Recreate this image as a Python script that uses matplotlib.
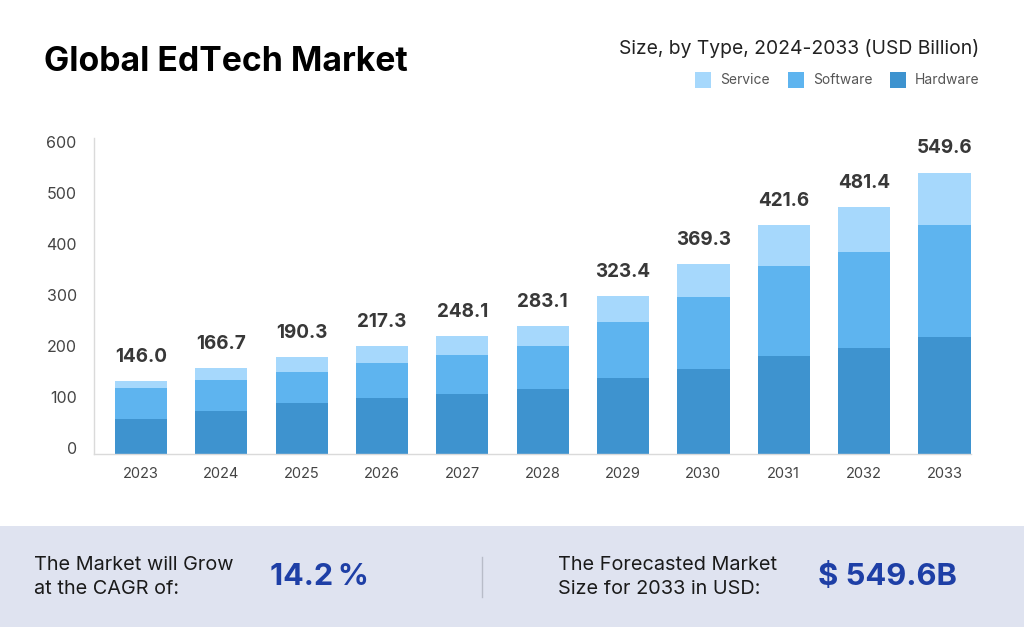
import matplotlib
matplotlib.use("Agg")
import matplotlib.pyplot as plt
from matplotlib.patches import Rectangle
from matplotlib.transforms import ScaledTranslation
import numpy as np

# ---- data ----
years = ["2023", "2024", "2025", "2026", "2027", "2028", "2029", "2030", "2031", "2032", "2033"]
hardware = [68, 84, 100, 110, 117, 127, 149, 166, 192, 207, 229]
software = [61, 61, 61, 69, 77, 85, 110, 142, 176, 189, 220]
service = [14, 24, 29, 33, 37, 39, 51, 64, 81, 87, 102]
total_labels = ["146.0", "166.7", "190.3", "217.3", "248.1", "283.1", "323.4", "369.3", "421.6", "481.4", "549.6"]
yticks = [0, 100, 200, 300, 400, 500, 600]

C_SERVICE = "#A6D8FC"
C_SOFTWARE = "#5EB4EF"
C_HARDWARE = "#3E93CF"
BLUE_TXT = "#1E3FA6"
FONT = "Inter"

W, H = 1024, 627
fig = plt.figure(figsize=(W / 100, H / 100), dpi=100)
fig.patch.set_facecolor("white")


def fx(x):
    return x / W


def fy(y):
    return 1 - y / H


ax = fig.add_axes([fx(94.3), fy(454), fx(971) - fx(94.3), fy(138.3) - fy(454)])
x = np.arange(len(years))
bw = 0.65
hw = np.array(hardware)
sw = np.array(software)
sv = np.array(service)
ax.bar(x, hw, bw, color=C_HARDWARE, label="Hardware", zorder=2)
ax.bar(x, sw, bw, bottom=hw, color=C_SOFTWARE, label="Software", zorder=2)
ax.bar(x, sv, bw, bottom=hw + sw, color=C_SERVICE, label="Service", zorder=2)

tops = hw + sw + sv
for xi, t, lab in zip(x, tops, total_labels):
    ax.annotate(lab, (xi, t), xytext=(0, 17.3), textcoords="offset points",
                ha="center", va="center", fontsize=13.6, fontweight="bold",
                color="#383838", family=FONT)

ax.set_xlim(-0.58, 10.33)
ax.set_ylim(0, 618)
ax.set_yticks(yticks)
ax.set_xticks(x)
ax.set_xticklabels(years)
for s in ["top", "right"]:
    ax.spines[s].set_visible(False)
for s in ["left", "bottom"]:
    ax.spines[s].set_color("#DADADA")
    ax.spines[s].set_linewidth(1.0)
ax.tick_params(axis="both", length=0)
ax.tick_params(axis="y", pad=12.7, labelsize=11.5, labelcolor="#444444")
ax.tick_params(axis="x", pad=9, labelsize=10.5, labelcolor="#444444")
for lab in ax.get_yticklabels():
    lab.set_family(FONT)
    lab.set_transform(lab.get_transform() + ScaledTranslation(0, 0.055, fig.dpi_scale_trans))
for lab in ax.get_xticklabels():
    lab.set_family(FONT)

# ---- titles ----
fig.text(fx(44), fy(61.7), "Global EdTech Market", fontsize=24.3, fontweight="bold",
         color="black", va="center", ha="left", family=FONT)
fig.text(fx(979), fy(48.3), "Size, by Type, 2024-2033 (USD Billion)", fontsize=13.9,
         color="#222222", va="center", ha="right", family=FONT)

# ---- legend ----
leg = [("Service", C_SERVICE, 695, 720), ("Software", C_SOFTWARE, 788, 813), ("Hardware", C_HARDWARE, 890, 915)]
for name, col, sx, tx in leg:
    fig.add_artist(Rectangle((fx(sx), fy(88)), fx(16), 16 / H, transform=fig.transFigure,
                             facecolor=col, edgecolor="none"))
    fig.text(fx(tx), fy(80), name, fontsize=10, color="#555555", va="center", ha="left", family=FONT)

# ---- bottom panel ----
fig.add_artist(Rectangle((0, 0), 1, fy(526), transform=fig.transFigure,
                         facecolor="#DFE3F0", edgecolor="none", zorder=0))
fig.add_artist(plt.Line2D([fx(482), fx(482)], [fy(557), fy(597)], transform=fig.transFigure,
                          color="#B8BCC8", linewidth=1))
BT = 14.3
fig.text(fx(34), fy(565), "The Market will Grow", fontsize=BT, color="#1A1A1A",
         va="center", ha="left", family=FONT)
fig.text(fx(34), fy(589.5), "at the CAGR of:", fontsize=BT, color="#1A1A1A",
         va="center", ha="left", family=FONT)
fig.text(fx(270), fy(577), "14.2\u2009%", fontsize=22, fontweight="bold", color=BLUE_TXT,
         va="center", ha="left", family=FONT)
fig.text(fx(558), fy(565), "The Forecasted Market", fontsize=BT, color="#1A1A1A",
         va="center", ha="left", family=FONT)
fig.text(fx(558), fy(589.5), "Size for 2033 in USD:", fontsize=BT, color="#1A1A1A",
         va="center", ha="left", family=FONT)
fig.text(fx(818), fy(577), "$ 549.6B", fontsize=22.3, fontweight="bold", color=BLUE_TXT,
         va="center", ha="left", family=FONT)

fig.savefig("out.png", dpi=100)
